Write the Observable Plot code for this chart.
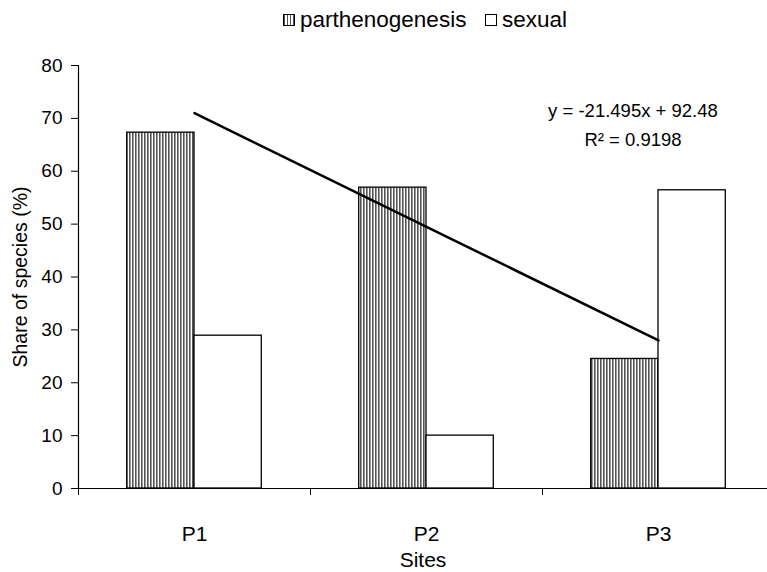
<!DOCTYPE html>
<html>
<head>
<meta charset="utf-8">
<script src="https://cdn.jsdelivr.net/npm/d3@7"></script>
<script src="https://cdn.jsdelivr.net/npm/@observablehq/plot@0.6"></script>
<style>
  body { margin: 0; background: white; font-family: "Liberation Sans", Arial, sans-serif; }
  #legend { position: relative; height: 40px; width: 767px; font-size: 22.5px; color: black; }
  #legend .item { position: absolute; top: 7px; display: flex; align-items: center; gap: 5px; }
  #legend .sw { width: 12px; height: 12px; border: 1px solid black; box-sizing: border-box; }
  #legend .stripe { background: repeating-linear-gradient(90deg, #555 0 1.5px, #fff 1.5px 3px); }
  #legend .plain { background: white; }
</style>
</head>
<body>
<div id="legend">
  <div class="item" style="left:283px"><span class="sw stripe"></span><span>parthenogenesis</span></div>
  <div class="item" style="left:485px"><span class="sw plain"></span><span>sexual</span></div>
</div>
<div id="chart"></div>
<script>
// ---- data ----
const sites = ["P1", "P2", "P3"];
const parthenogenesis = [67.3, 56.9, 24.5];
const sexual = [28.9, 10.0, 56.4];
const trendSlope = -21.495;
const trendIntercept = 92.48;
const trendR2 = 0.9198;
const yTicks = [0, 10, 20, 30, 40, 50, 60, 70, 80];

// ---- derived tables ----
const barFrac = 0.29; // bar width as fraction of a category
const parthRows = sites.map((s, k) => ({site: s, i: k + 1, value: parthenogenesis[k]}));
const sexRows = sites.map((s, k) => ({site: s, i: k + 1, value: sexual[k]}));
const trend = sites.map((s, k) => ({i: k + 1, fit: trendSlope * (k + 1) + trendIntercept}));
const eqText = [`y = ${trendSlope}x + ${trendIntercept}\nR² = ${trendR2}`];

const font = '"Liberation Sans", Arial, sans-serif';

const defsMark = () => {
  const svgNS = "http://www.w3.org/2000/svg";
  const defs = document.createElementNS(svgNS, "defs");
  defs.innerHTML = `<pattern id="vstripes" patternUnits="userSpaceOnUse" width="3" height="3">
      <rect width="3" height="3" fill="white"/>
      <rect width="1.6" height="3" fill="#555"/>
    </pattern>`;
  return defs;
};

const chart = Plot.plot({
  width: 767,
  height: 532,
  marginLeft: 78,
  marginRight: 0,
  marginTop: 25,
  marginBottom: 84,
  style: {fontFamily: font, background: "white", color: "black"},
  x: {domain: [0.5, 3.5], range: [78, 774]},
  y: {domain: [0, 80]},
  marks: [
    defsMark,
    Plot.rectY(parthRows, {x1: d => d.i - barFrac, x2: d => d.i, y1: 0, y2: "value", fill: "url(#vstripes)", stroke: "black", strokeWidth: 1.3}),
    Plot.rectY(sexRows, {x1: d => d.i, x2: d => d.i + barFrac, y1: 0, y2: "value", fill: "white", stroke: "black", strokeWidth: 1.3}),
    Plot.ruleY([0], {x1: 0.5, x2: 3.5, stroke: "black", strokeWidth: 1.2}),
    Plot.ruleX([0.5], {y1: 0, y2: 80, stroke: "black", strokeWidth: 1.2}),
    Plot.axisY({ticks: yTicks, tickSize: 7, tickPadding: 9, fontSize: 19, label: null}),
    Plot.axisX({ticks: [0.5, 1.5, 2.5, 3.5], tickSize: 7, tickFormat: () => "", label: null}),
    Plot.axisX({ticks: [1, 2, 3], tickSize: 0, tickPadding: 38, tickFormat: i => sites[i - 1], fontSize: 21, label: null}),
    Plot.line(trend, {x: "i", y: "fit", stroke: "black", strokeWidth: 2.5}),
    Plot.text(eqText, {x: 2.89, y: 69.2, text: d => d, fontSize: 18.5, lineHeight: 1.55, textAnchor: "middle", fill: "black"}),
    Plot.text(["Sites"], {frameAnchor: "bottom", dy: 72, text: d => d, fontSize: 21, fill: "black", lineAnchor: "middle"}),
    Plot.text(["Share of species (%)"], {frameAnchor: "left", dx: -58, rotate: -90, text: d => d, fontSize: 19.5, fill: "black", textAnchor: "middle", lineAnchor: "middle"})
  ]
});
document.getElementById("chart").appendChild(chart);
</script>
</body>
</html>
